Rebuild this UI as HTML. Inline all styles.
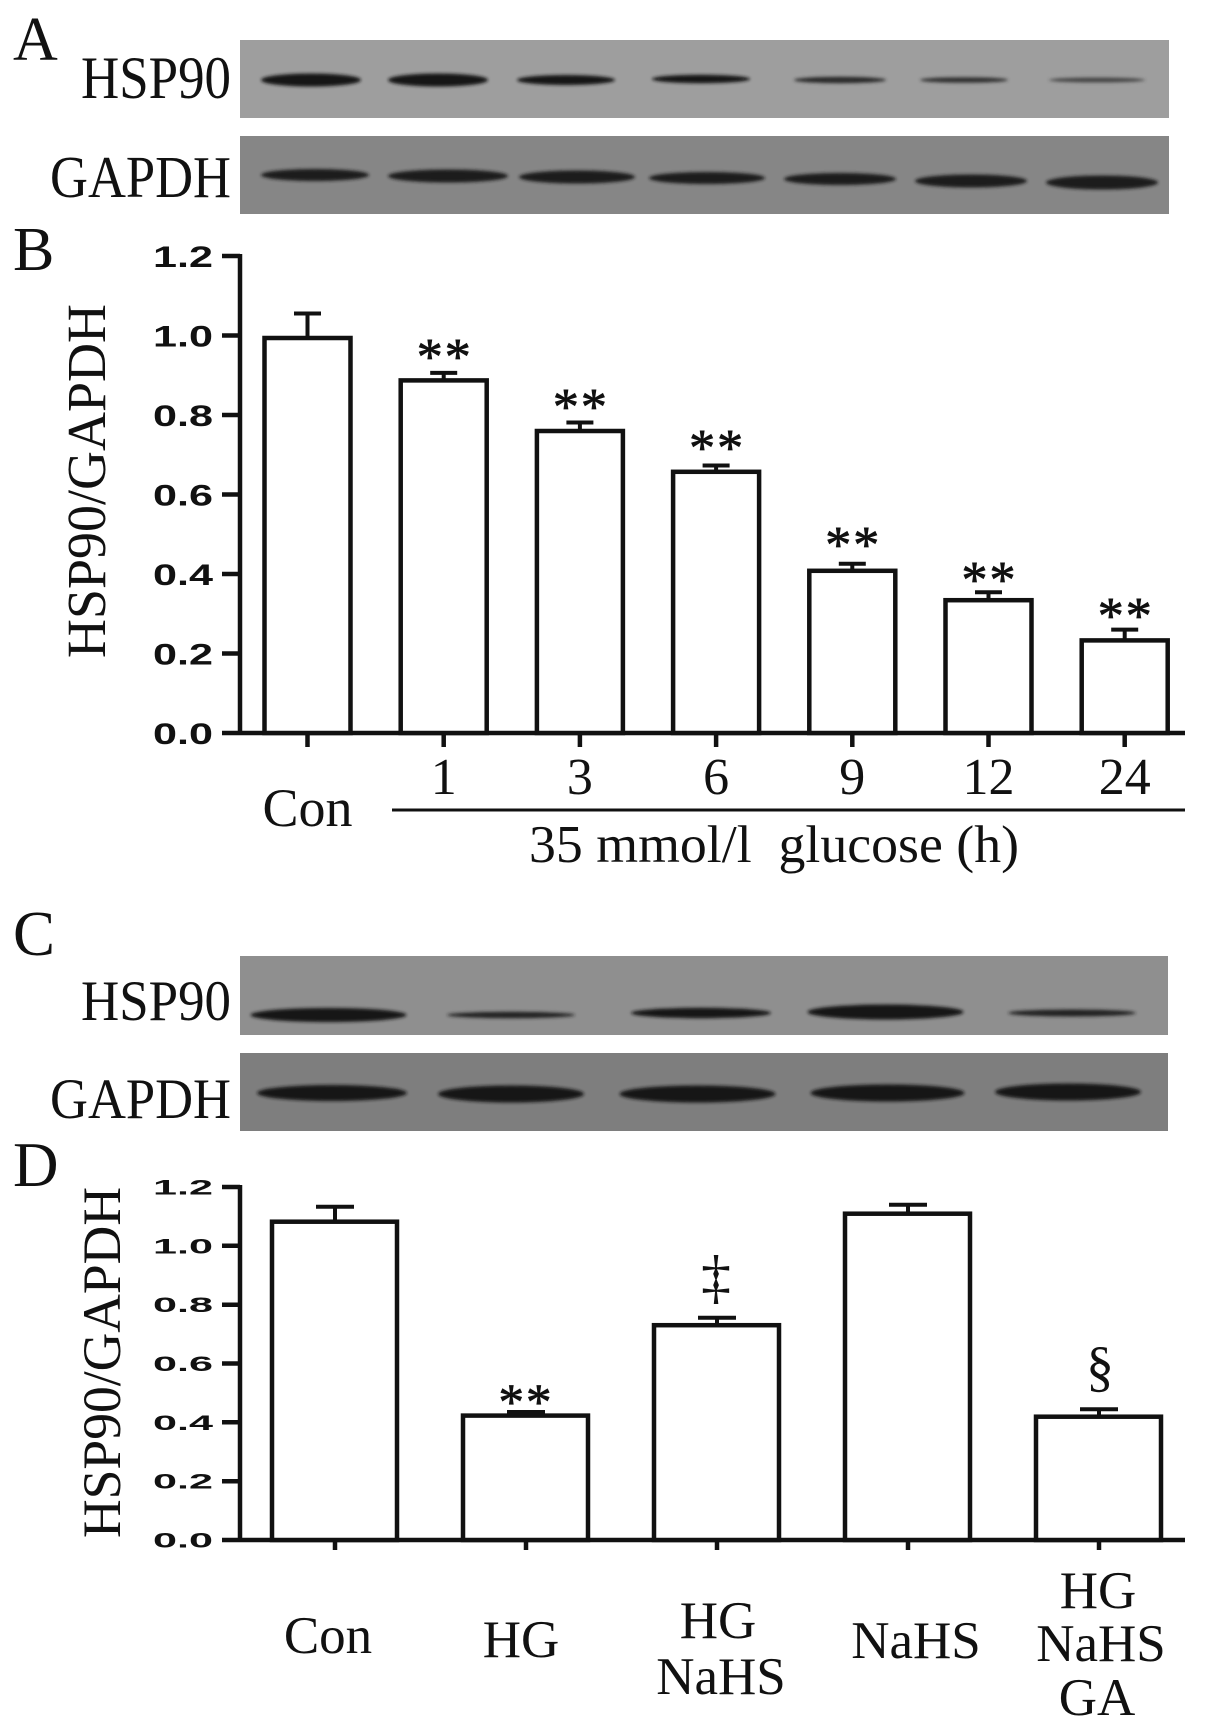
<!DOCTYPE html>
<html>
<head>
<meta charset="utf-8">
<style>
  html,body{margin:0;padding:0;background:#fff;}
  svg{display:block;}
  .serif{font-family:"Liberation Serif","Times New Roman",serif;fill:#111;}
  .num{font-family:"Liberation Sans",Arial,sans-serif;font-weight:bold;fill:#111;}
  .star{font-family:"Liberation Serif","Times New Roman",serif;fill:#111;stroke:#111;stroke-width:0.8;letter-spacing:2px;}
</style>
</head>
<body>
<svg width="1205" height="1734" viewBox="0 0 1205 1734" xmlns="http://www.w3.org/2000/svg">
  <defs>
    <filter id="bl" x="-10%" y="-100%" width="120%" height="300%">
      <feGaussianBlur stdDeviation="1.6"/>
    </filter>
  </defs>
  <rect width="1205" height="1734" fill="#fff"/>

  <!-- ===== Panel A ===== -->
  <text class="serif" x="13" y="60" font-size="62">A</text>
  <text class="serif" x="81" y="98" font-size="60" textLength="150" lengthAdjust="spacingAndGlyphs">HSP90</text>
  <text class="serif" x="50" y="197" font-size="59" textLength="181" lengthAdjust="spacingAndGlyphs">GAPDH</text>

  <rect x="240" y="40" width="929" height="78" fill="#9e9e9e"/>
  <rect x="240" y="136" width="929" height="78" fill="#868686"/>
  <g fill="#151515" filter="url(#bl)">
    <ellipse cx="311" cy="80" rx="50" ry="6.5"/>
    <ellipse cx="438" cy="80" rx="50" ry="6.5"/>
    <ellipse cx="566" cy="80" rx="49" ry="5"/>
    <ellipse cx="701" cy="79" rx="49" ry="4.2"/>
    <ellipse cx="840" cy="80" rx="46" ry="3.2" fill="#2a2a2a"/>
    <ellipse cx="964" cy="80" rx="44" ry="2.8" fill="#333"/>
    <ellipse cx="1097" cy="80" rx="48" ry="2.4" fill="#444"/>
  </g>
  <g fill="#1a1a1a" filter="url(#bl)">
    <ellipse cx="315" cy="175" rx="54" ry="6"/>
    <ellipse cx="448" cy="176" rx="60" ry="6.5"/>
    <ellipse cx="577" cy="177" rx="58" ry="6.5"/>
    <ellipse cx="707" cy="178" rx="58" ry="6"/>
    <ellipse cx="840" cy="179" rx="56" ry="6"/>
    <ellipse cx="971" cy="181" rx="56" ry="6.5"/>
    <ellipse cx="1102" cy="182.5" rx="56" ry="7"/>
  </g>

  <!-- ===== Panel B ===== -->
  <text class="serif" x="13" y="270" font-size="62">B</text>
  <text class="serif" font-size="55" text-anchor="middle" textLength="354" lengthAdjust="spacingAndGlyphs" transform="translate(105,481) rotate(-90)">HSP90/GAPDH</text>

  <g class="num" font-size="30">
    <text x="153" y="744" textLength="60" lengthAdjust="spacingAndGlyphs">0.0</text>
    <text x="153" y="664.5" textLength="60" lengthAdjust="spacingAndGlyphs">0.2</text>
    <text x="153" y="585" textLength="60" lengthAdjust="spacingAndGlyphs">0.4</text>
    <text x="153" y="505.5" textLength="60" lengthAdjust="spacingAndGlyphs">0.6</text>
    <text x="153" y="426" textLength="60" lengthAdjust="spacingAndGlyphs">0.8</text>
    <text x="153" y="346.5" textLength="60" lengthAdjust="spacingAndGlyphs">1.0</text>
    <text x="153" y="267" textLength="60" lengthAdjust="spacingAndGlyphs">1.2</text>
  </g>
  <g stroke="#111" stroke-width="4.5" fill="none">
    <line x1="240" y1="254" x2="240" y2="735"/>
    <line x1="222" y1="733" x2="1185" y2="733"/>
    <line x1="222" y1="653.5" x2="240" y2="653.5"/>
    <line x1="222" y1="574" x2="240" y2="574"/>
    <line x1="222" y1="494.5" x2="240" y2="494.5"/>
    <line x1="222" y1="415" x2="240" y2="415"/>
    <line x1="222" y1="335.5" x2="240" y2="335.5"/>
    <line x1="222" y1="256" x2="240" y2="256"/>
    <line x1="307.5" y1="733" x2="307.5" y2="747"/>
    <line x1="443.7" y1="733" x2="443.7" y2="747"/>
    <line x1="579.9" y1="733" x2="579.9" y2="747"/>
    <line x1="716.1" y1="733" x2="716.1" y2="747"/>
    <line x1="852.3" y1="733" x2="852.3" y2="747"/>
    <line x1="988.5" y1="733" x2="988.5" y2="747"/>
    <line x1="1124.7" y1="733" x2="1124.7" y2="747"/>
  </g>
  <g stroke="#111" stroke-width="4.5" fill="#fff">
    <rect x="264.5" y="338" width="86" height="395"/>
    <rect x="400.7" y="380.4" width="86" height="352.6"/>
    <rect x="536.9" y="431" width="86" height="302"/>
    <rect x="673.1" y="471.8" width="86" height="261.2"/>
    <rect x="809.3" y="570.8" width="86" height="162.2"/>
    <rect x="945.5" y="600.2" width="86" height="132.8"/>
    <rect x="1081.7" y="640.4" width="86" height="92.6"/>
  </g>
  <g stroke="#111" stroke-width="4" fill="none">
    <line x1="307.5" y1="338" x2="307.5" y2="313.5"/><line x1="294" y1="313.5" x2="321" y2="313.5"/>
    <line x1="443.7" y1="380" x2="443.7" y2="372.9"/><line x1="430.2" y1="372.9" x2="457.2" y2="372.9"/>
    <line x1="579.9" y1="431" x2="579.9" y2="422.5"/><line x1="566.4" y1="422.5" x2="593.4" y2="422.5"/>
    <line x1="716.1" y1="471" x2="716.1" y2="465.5"/><line x1="702.6" y1="465.5" x2="729.6" y2="465.5"/>
    <line x1="852.3" y1="570" x2="852.3" y2="563.7"/><line x1="838.8" y1="563.7" x2="865.8" y2="563.7"/>
    <line x1="988.5" y1="600" x2="988.5" y2="592.3"/><line x1="975" y1="592.3" x2="1002" y2="592.3"/>
    <line x1="1124.7" y1="640" x2="1124.7" y2="629.6"/><line x1="1111.2" y1="629.6" x2="1138.2" y2="629.6"/>
  </g>
  <g class="star" font-size="52" text-anchor="middle">
    <text x="444.7" y="374">**</text>
    <text x="580.9" y="424">**</text>
    <text x="717.1" y="465">**</text>
    <text x="853.3" y="562">**</text>
    <text x="989.5" y="597">**</text>
    <text x="1125.7" y="633">**</text>
  </g>
  <g class="serif" font-size="52" text-anchor="middle">
    <text x="443.7" y="794">1</text>
    <text x="579.9" y="794">3</text>
    <text x="716.1" y="794">6</text>
    <text x="852.3" y="794">9</text>
    <text x="988.5" y="794">12</text>
    <text x="1124.7" y="794">24</text>
  </g>
  <text class="serif" x="307.5" y="826" font-size="54" text-anchor="middle">Con</text>
  <line x1="392" y1="810" x2="1185" y2="810" stroke="#111" stroke-width="3"/>
  <text class="serif" x="529" y="862" font-size="53" textLength="490" lengthAdjust="spacingAndGlyphs" xml:space="preserve">35 mmol/l  glucose (h)</text>

  <!-- ===== Panel C ===== -->
  <text class="serif" x="13" y="955" font-size="63">C</text>
  <text class="serif" x="81" y="1020" font-size="57" textLength="150" lengthAdjust="spacingAndGlyphs">HSP90</text>
  <text class="serif" x="50" y="1118" font-size="57" textLength="181" lengthAdjust="spacingAndGlyphs">GAPDH</text>
  <rect x="240" y="956" width="928" height="79" fill="#8f8f8f"/>
  <rect x="240" y="1053" width="928" height="78" fill="#7e7e7e"/>
  <g fill="#141414" filter="url(#bl)">
    <ellipse cx="328.5" cy="1015" rx="78" ry="7"/>
    <ellipse cx="511" cy="1015" rx="64" ry="3.2" fill="#222"/>
    <ellipse cx="701" cy="1013" rx="70" ry="5.2"/>
    <ellipse cx="885.5" cy="1012" rx="78" ry="7.5"/>
    <ellipse cx="1072" cy="1013" rx="64" ry="3.5" fill="#222"/>
  </g>
  <g fill="#141414" filter="url(#bl)">
    <ellipse cx="332" cy="1093" rx="75" ry="8"/>
    <ellipse cx="511" cy="1094" rx="73" ry="8.5"/>
    <ellipse cx="697.5" cy="1094" rx="78" ry="8.5"/>
    <ellipse cx="887.5" cy="1093" rx="77" ry="8.5"/>
    <ellipse cx="1068" cy="1092" rx="73" ry="8.5"/>
  </g>

  <!-- ===== Panel D ===== -->
  <text class="serif" x="13" y="1186" font-size="63">D</text>
  <text class="serif" font-size="54" text-anchor="middle" textLength="351" lengthAdjust="spacingAndGlyphs" transform="translate(120,1362.5) rotate(-90)">HSP90/GAPDH</text>
  <g class="num" font-size="21">
    <text x="153" y="1547.5" textLength="60" lengthAdjust="spacingAndGlyphs">0.0</text>
    <text x="153" y="1488.7" textLength="60" lengthAdjust="spacingAndGlyphs">0.2</text>
    <text x="153" y="1429.8" textLength="60" lengthAdjust="spacingAndGlyphs">0.4</text>
    <text x="153" y="1371" textLength="60" lengthAdjust="spacingAndGlyphs">0.6</text>
    <text x="153" y="1312.2" textLength="60" lengthAdjust="spacingAndGlyphs">0.8</text>
    <text x="153" y="1253.3" textLength="60" lengthAdjust="spacingAndGlyphs">1.0</text>
    <text x="153" y="1194.5" textLength="60" lengthAdjust="spacingAndGlyphs">1.2</text>
  </g>
  <g stroke="#111" stroke-width="4.5" fill="none">
    <line x1="240" y1="1185" x2="240" y2="1542"/>
    <line x1="222" y1="1540" x2="1185" y2="1540"/>
    <line x1="222" y1="1481.2" x2="240" y2="1481.2"/>
    <line x1="222" y1="1422.3" x2="240" y2="1422.3"/>
    <line x1="222" y1="1363.5" x2="240" y2="1363.5"/>
    <line x1="222" y1="1304.7" x2="240" y2="1304.7"/>
    <line x1="222" y1="1245.8" x2="240" y2="1245.8"/>
    <line x1="222" y1="1187" x2="240" y2="1187"/>
    <line x1="335" y1="1540" x2="335" y2="1550"/>
    <line x1="526" y1="1540" x2="526" y2="1550"/>
    <line x1="717" y1="1540" x2="717" y2="1550"/>
    <line x1="908" y1="1540" x2="908" y2="1550"/>
    <line x1="1099" y1="1540" x2="1099" y2="1550"/>
  </g>
  <g stroke="#111" stroke-width="4.5" fill="#fff">
    <rect x="272" y="1221.7" width="125" height="318.3"/>
    <rect x="463" y="1415.6" width="125" height="124.4"/>
    <rect x="654" y="1325.2" width="125" height="214.8"/>
    <rect x="845" y="1213.7" width="125" height="326.3"/>
    <rect x="1036" y="1416.7" width="125" height="123.3"/>
  </g>
  <g stroke="#111" stroke-width="4" fill="none">
    <line x1="335" y1="1221" x2="335" y2="1206.7"/><line x1="316" y1="1206.7" x2="354" y2="1206.7"/>
    <line x1="526" y1="1415" x2="526" y2="1412"/><line x1="507" y1="1412" x2="545" y2="1412"/>
    <line x1="717" y1="1325" x2="717" y2="1317.8"/><line x1="698" y1="1317.8" x2="736" y2="1317.8"/>
    <line x1="908" y1="1213" x2="908" y2="1204.8"/><line x1="889" y1="1204.8" x2="927" y2="1204.8"/>
    <line x1="1099" y1="1416" x2="1099" y2="1409.2"/><line x1="1080" y1="1409.2" x2="1118" y2="1409.2"/>
  </g>
  <text class="star" x="526" y="1419" font-size="51" text-anchor="middle">**</text>
  <text class="serif" x="716" y="1297" font-size="60" text-anchor="middle">‡</text>
  <text class="serif" x="1100" y="1385" font-size="56" text-anchor="middle">§</text>

  <g class="serif" font-size="53" text-anchor="middle">
    <text x="328" y="1653">Con</text>
    <text x="521" y="1657">HG</text>
    <text x="718" y="1638">HG</text>
    <text x="721" y="1694">NaHS</text>
    <text x="916" y="1658">NaHS</text>
    <text x="1098" y="1608">HG</text>
    <text x="1101" y="1661">NaHS</text>
    <text x="1097" y="1715">GA</text>
  </g>
</svg>
</body>
</html>
